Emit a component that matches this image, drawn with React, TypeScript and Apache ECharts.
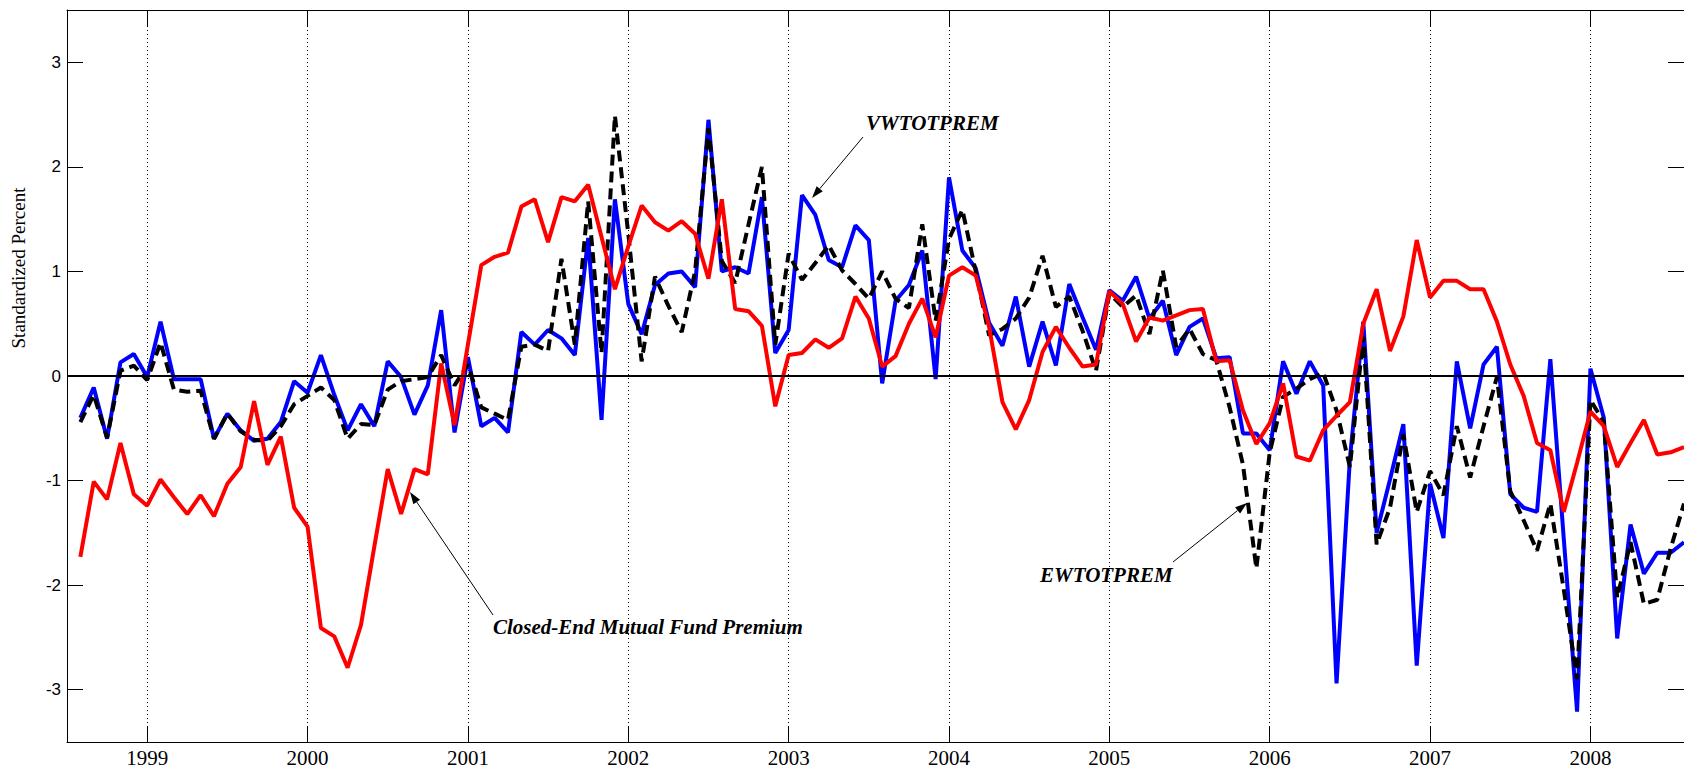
import { useEffect, useRef } from 'react';
import * as echarts from 'echarts';

// Monthly categories: Jul 1998 (axis start, no observation) .. Aug 2008
const months: string[] = [];
for (let i = 0; i < 122; i++) {
  const t = 6 + i;
  const y = 1998 + Math.floor(t / 12);
  const mo = (t % 12) + 1;
  months.push(`${y}-${String(mo).padStart(2, '0')}`);
}

// Observations Aug 1998 .. Aug 2008
const closedEndPremium: number[] = [
  -1.73, -1.01, -1.18, -0.64, -1.13,
  -1.24, -0.99, -1.16, -1.32, -1.14, -1.34, -1.03, -0.87, -0.24, -0.85, -0.58, -1.26,
  -1.44, -2.41, -2.49, -2.79, -2.38, -1.63, -0.89, -1.32, -0.89, -0.94, 0.12, -0.47,
  0.30, 1.06, 1.14, 1.18, 1.62, 1.69, 1.28, 1.71, 1.67, 1.83, 1.33, 0.83,
  1.24, 1.63, 1.47, 1.39, 1.48, 1.36, 0.93, 1.69, 0.64, 0.62, 0.48, -0.29,
  0.20, 0.22, 0.35, 0.27, 0.36, 0.76, 0.55, 0.09, 0.19, 0.50, 0.74, 0.37,
  0.96, 1.04, 0.96, 0.47, -0.25, -0.51, -0.23, 0.23, 0.47, 0.27, 0.09, 0.11,
  0.81, 0.69, 0.33, 0.56, 0.53, 0.58, 0.63, 0.64, 0.14, 0.15, -0.33, -0.65,
  -0.45, -0.07, -0.77, -0.81, -0.52, -0.38, -0.25, 0.50, 0.83, 0.24, 0.57, 1.30,
  0.75, 0.91, 0.91, 0.83, 0.83, 0.52, 0.11, -0.19, -0.64, -0.71, -1.30, -0.83,
  -0.34, -0.48, -0.87, -0.64, -0.42, -0.75, -0.73, -0.68,
];

const vwtotprem: number[] = [
  -0.40, -0.11, -0.60, 0.13, 0.21,
  -0.01, 0.52, -0.03, -0.03, -0.03, -0.60, -0.36, -0.52, -0.62, -0.60, -0.44, -0.05,
  -0.16, 0.20, -0.18, -0.52, -0.27, -0.48, 0.14, -0.01, -0.37, -0.09, 0.63, -0.54,
  0.18, -0.48, -0.40, -0.54, 0.42, 0.30, 0.44, 0.36, 0.20, 1.32, -0.42, 1.69,
  0.69, 0.40, 0.87, 0.98, 1.00, 0.85, 2.45, 1.00, 1.04, 0.98, 1.71, 0.22,
  0.44, 1.73, 1.54, 1.11, 1.04, 1.44, 1.30, -0.07, 0.72, 0.87, 1.20, -0.03,
  1.90, 1.20, 1.03, 0.51, 0.29, 0.76, 0.09, 0.52, 0.10, 0.88, 0.56, 0.25,
  0.82, 0.72, 0.95, 0.55, 0.72, 0.20, 0.47, 0.55, 0.17, 0.18, -0.55, -0.55,
  -0.71, 0.14, -0.17, 0.14, -0.09, -2.94, -0.79, 0.52, -1.50, -0.99, -0.46, -2.77,
  -1.03, -1.55, 0.14, -0.50, 0.11, 0.28, -1.13, -1.26, -1.30, 0.16, -1.55, -3.21,
  0.07, -0.40, -2.51, -1.42, -1.89, -1.69, -1.69, -1.59,
];

const ewtotprem: number[] = [
  -0.44, -0.18, -0.59, 0.05, 0.10,
  -0.04, 0.32, -0.13, -0.15, -0.14, -0.60, -0.36, -0.53, -0.61, -0.62, -0.48, -0.27,
  -0.19, -0.11, -0.23, -0.60, -0.46, -0.47, -0.13, -0.05, -0.03, -0.01, 0.20, -0.09,
  0.11, -0.30, -0.36, -0.42, 0.28, 0.30, 0.24, 1.12, 0.30, 1.67, 0.22, 2.49,
  1.36, 0.14, 0.95, 0.67, 0.42, 1.00, 2.37, 1.10, 0.89, 1.45, 2.00, 0.30,
  1.17, 0.92, 1.08, 1.25, 1.01, 0.88, 0.74, 1.00, 0.74, 0.65, 1.45, 0.53,
  1.31, 1.59, 1.00, 0.39, 0.45, 0.55, 0.75, 1.15, 0.66, 0.76, 0.43, 0.05,
  0.79, 0.66, 0.77, 0.40, 1.01, 0.28, 0.45, 0.21, 0.15, -0.30, -0.85, -1.84,
  -0.73, -0.20, -0.12, -0.03, 0.03, -0.33, -0.87, 0.38, -1.61, -1.26, -0.56, -1.30,
  -0.91, -1.14, -0.48, -0.97, -0.48, -0.01, -1.10, -1.38, -1.67, -1.22, -2.04, -2.90,
  -0.23, -0.44, -2.12, -1.59, -2.18, -2.14, -1.65, -1.22,
];

const isJan = (_i: number, v: string) => typeof v === 'string' && v.endsWith('-01');

function arrow(x1: number, y1: number, x2: number, y2: number) {
  const dx = x2 - x1, dy = y2 - y1;
  const len = Math.sqrt(dx * dx + dy * dy);
  const ux = dx / len, uy = dy / len;
  const hl = 12, hw = 4;
  const bx = x2 - ux * hl, by = y2 - uy * hl;
  return [
    { type: 'line', silent: true, shape: { x1, y1, x2: bx, y2: by }, style: { stroke: '#000', lineWidth: 1 } },
    {
      type: 'polygon', silent: true,
      shape: { points: [[x2, y2], [bx - uy * hw, by + ux * hw], [bx + uy * hw, by - ux * hw]] },
      style: { fill: '#000' },
    },
  ];
}

const annoFont = { fontFamily: 'Liberation Serif', fontStyle: 'italic', fontWeight: 'bold', fontSize: 21, fill: '#000' };

export default function App() {
  const ref = useRef<HTMLDivElement>(null);
  useEffect(() => {
    if (!ref.current) return;
    const chart = echarts.init(ref.current, undefined, { renderer: 'svg' });
    const axisLineStyle = { color: '#000', width: 1 };
    chart.setOption({
      animation: false,
      backgroundColor: '#fff',
      grid: { left: 67, right: 0, top: 10, bottom: 29, containLabel: false },
      xAxis: [
        {
          type: 'category', data: months, boundaryGap: false, position: 'bottom',
          axisLine: { show: true, onZero: false, lineStyle: axisLineStyle },
          axisTick: { show: true, inside: true, length: 16, interval: isJan, lineStyle: { color: '#000', width: 1 } },
          axisLabel: {
            interval: isJan, formatter: (v: string) => v.slice(0, 4),
            fontFamily: 'Liberation Serif', fontSize: 21, color: '#000', margin: 5,
          },
          splitLine: { show: true, interval: isJan, lineStyle: { type: [1, 3], color: '#000', width: 1 } },
        },
        {
          type: 'category', data: months, boundaryGap: false, position: 'top',
          axisLine: { show: true, onZero: false, lineStyle: axisLineStyle },
          axisTick: { show: true, inside: true, length: 16, interval: isJan, lineStyle: { color: '#000', width: 1 } },
          axisLabel: { show: false },
          splitLine: { show: false },
        },
      ],
      yAxis: [
        {
          type: 'value', min: -3.5, max: 3.5, splitNumber: 7, position: 'left',
          axisLine: { show: true, onZero: false, lineStyle: axisLineStyle },
          axisTick: { show: true, inside: true, length: 16, lineStyle: { color: '#000', width: 1 } },
          axisLabel: {
            formatter: (v: number) => (Number.isInteger(v) ? String(v) : ''),
            fontFamily: 'Liberation Sans', fontSize: 17, color: '#000', margin: 6,
          },
          splitLine: { show: false },
        },
        {
          type: 'value', min: -3.5, max: 3.5, splitNumber: 7, position: 'right',
          axisLine: { show: true, onZero: false, lineStyle: axisLineStyle },
          axisTick: { show: true, inside: true, length: 16, lineStyle: { color: '#000', width: 1 } },
          axisLabel: { show: false },
          splitLine: { show: false },
        },
      ],
      series: [
        {
          name: 'VWTOTPREM', type: 'line', data: [null, ...vwtotprem], showSymbol: false, symbol: 'none',
          lineStyle: { color: '#0000ff', width: 4 }, connectNulls: false,
          markLine: {
            silent: true, symbol: 'none', label: { show: false },
            lineStyle: { color: '#000', width: 2, type: 'solid' },
            data: [{ yAxis: 0 }],
          },
        },
        {
          name: 'EWTOTPREM', type: 'line', data: [null, ...ewtotprem], showSymbol: false, symbol: 'none',
          lineStyle: { color: '#000', width: 4, type: [11, 6] },
        },
        {
          name: 'Closed-End Mutual Fund Premium', type: 'line', data: [null, ...closedEndPremium], showSymbol: false, symbol: 'none',
          lineStyle: { color: '#ff0000', width: 4 },
        },
      ],
      graphic: [
        {
          type: 'text', x: 18, y: 268, rotation: Math.PI / 2, silent: true,
          style: { text: 'Standardized Percent', fontFamily: 'Liberation Serif', fontSize: 19, fill: '#000', align: 'center', verticalAlign: 'middle' },
        },
        { type: 'text', x: 866, y: 123, silent: true, style: { ...annoFont, text: 'VWTOTPREM', align: 'left', verticalAlign: 'middle' } },
        { type: 'text', x: 1040, y: 575, silent: true, style: { ...annoFont, text: 'EWTOTPREM', align: 'left', verticalAlign: 'middle' } },
        { type: 'text', x: 493, y: 627, silent: true, style: { ...annoFont, text: 'Closed-End Mutual Fund Premium', align: 'left', verticalAlign: 'middle' } },
        ...arrow(863, 137, 812, 198),
        ...arrow(1173, 562, 1247, 503),
        ...arrow(493, 615, 410, 492),
      ],
    });
    return () => chart.dispose();
  }, []);
  return <div ref={ref} style={{ position: 'absolute', left: 0, top: 0, width: 1684, height: 771, overflow: 'hidden' }} />;
}
